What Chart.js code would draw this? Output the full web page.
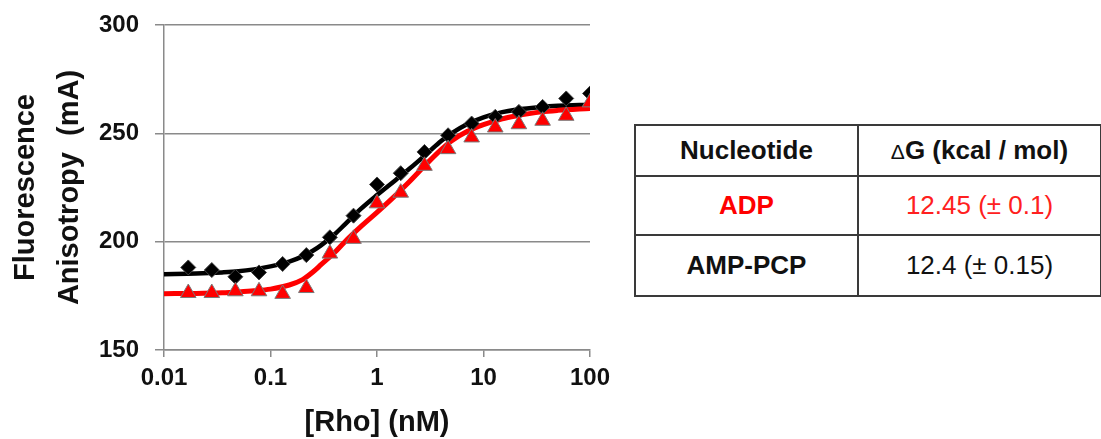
<!DOCTYPE html>
<html>
<head>
<meta charset="utf-8">
<script src="https://cdn.jsdelivr.net/npm/chart.js@4.4.1/dist/chart.umd.min.js"></script>
<style>
  html, body { margin: 0; padding: 0; background: #fff; }
  body { width: 1101px; height: 439px; position: relative; overflow: hidden;
         font-family: "Liberation Sans", Arial, sans-serif; }
  #plot { position: absolute; left: 0; top: 0; width: 620px; height: 439px; }
  table.dg { position: absolute; left: 634px; top: 124px; width: 466px;
             border-collapse: collapse; table-layout: fixed; }
  table.dg td { border: 2px solid #3a3a3a; text-align: center; padding: 0;
                font-size: 26px; color: #111; }
  table.dg td.h { font-weight: bold; }
  table.dg .red { color: #ff0000; }
  table.dg .redv { color: #ff2020; }
  .delta { font-size: 21px; font-weight: normal; }
</style>
</head>
<body>
<div id="plot"><canvas id="c" width="620" height="439"></canvas></div>

<table class="dg">
  <colgroup><col style="width:223px"><col style="width:243px"></colgroup>
  <tr style="height:51px"><td class="h">Nucleotide</td><td class="h"><span class="delta">&Delta;</span>G (kcal / mol)</td></tr>
  <tr style="height:59px"><td class="h red">ADP</td><td class="redv">12.45 (± 0.1)</td></tr>
  <tr style="height:61px"><td class="h">AMP-PCP</td><td>12.4 (± 0.15)</td></tr>
</table>

<script>
// Rho concentration series (nM) used for both titrations
const concNM = [0.0169, 0.0281, 0.0468, 0.078, 0.13, 0.217, 0.361, 0.602, 1.0, 1.67,
                2.79, 4.65, 7.74, 12.9, 21.5, 35.9, 59.8, 100];

// Measured anisotropy (mA)
const ampPcpAniso = [188.1, 186.9, 183.8, 185.8, 189.7, 193.8, 202.0, 212.0, 226.4, 231.6,
                     241.4, 249.1, 254.5, 257.6, 259.9, 262.2, 266.1, 268.4];
const adpAniso = [176.3, 176.3, 177.1, 177.1, 175.9, 178.6, 194.5, 201.3, 217.7, 222.6,
                  235.0, 242.7, 248.1, 252.7, 254.2, 255.8, 258.1, 264.3];

// Binding fits
const fitConc = [0.01, 0.02, 0.035, 0.05, 0.07, 0.1, 0.15, 0.2, 0.25, 0.3, 0.4, 0.5, 0.7,
                 1, 1.5, 2, 3, 4, 5, 7, 10, 15, 20, 35, 50, 100];
const ampPcpFit = [185, 185.3, 185.8, 186.3, 187.2, 188.6, 190.8, 193.2, 195.8, 198.4,
                   203.4, 208, 215, 221.5, 228.5, 233.5, 241, 246.5, 250, 254.2, 257.4,
                   259.8, 260.9, 262.2, 262.7, 263.2];
const adpFit = [176, 176.1, 176.4, 176.8, 177.3, 178.1, 180, 182.5, 186, 189.5, 195,
                200, 206.8, 213.5, 221.5, 227.5, 236.5, 242.5, 246.5, 250.8, 254,
                256.7, 258, 259.9, 260.6, 261.5];

// Axis ticks
const xTickValues = [0.01, 0.1, 1, 10, 100];
const xTickLabels = ['0.01', '0.1', '1', '10', '100'];
const yTickValues = [150, 200, 250, 300];

const pts = (xs, ys) => xs.map((x, i) => ({ x: x, y: ys[i] }));

const FONT = '"Liberation Sans", Arial, sans-serif';
const GRID = '#8a8a8a';

new Chart(document.getElementById('c'), {
  type: 'scatter',
  data: {
    datasets: [
      {
        label: 'ADP',
        data: pts(concNM, adpAniso),
        pointStyle: 'triangle',
        pointRadius: 9,
        backgroundColor: '#ff0000',
        borderColor: '#7a7a7a',
        borderWidth: 1,
        order: 0
      },
      {
        label: 'AMP-PCP',
        data: pts(concNM, ampPcpAniso),
        pointStyle: 'rectRot',
        pointRadius: 7.5,
        backgroundColor: '#000000',
        borderColor: '#444444',
        borderWidth: 1,
        order: 1
      },
      {
        label: 'ADP fit',
        data: pts(fitConc, adpFit),
        showLine: true,
        pointRadius: 0,
        borderColor: '#ff0000',
        borderWidth: 5,
        cubicInterpolationMode: 'monotone',
        order: 2
      },
      {
        label: 'AMP-PCP fit',
        data: pts(fitConc, ampPcpFit),
        showLine: true,
        pointRadius: 0,
        borderColor: '#000000',
        borderWidth: 4.5,
        cubicInterpolationMode: 'monotone',
        order: 3
      }
    ]
  },
  options: {
    responsive: false,
    devicePixelRatio: 1,
    animation: false,
    layout: { padding: { top: 25, right: 30, left: 0, bottom: 0 } },
    plugins: { legend: { display: false }, tooltip: { enabled: false } },
    elements: { point: { hoverRadius: 0 } },
    scales: {
      x: {
        type: 'logarithmic',
        min: 0.01,
        max: 100,
        afterBuildTicks: (scale) => { scale.ticks = xTickValues.map(v => ({ value: v })); },
        afterFit: (scale) => { scale.height = 89; },
        ticks: {
          callback: (v) => { const i = xTickValues.indexOf(v); return i >= 0 ? xTickLabels[i] : ''; },
          font: { family: FONT, size: 24, weight: 'bold' },
          color: '#111',
          padding: 7,
          maxRotation: 0,
          autoSkip: false
        },
        grid: { drawOnChartArea: false, drawTicks: true, tickLength: 7, color: GRID, lineWidth: 1.5 },
        border: { color: GRID, width: 1.5 },
        title: {
          display: true,
          text: '[Rho] (nM)',
          font: { family: FONT, size: 29, weight: 'bold', lineHeight: 1.2 },
          color: '#111',
          padding: { top: 0, bottom: -1 }
        }
      },
      y: {
        min: 150,
        max: 300,
        afterBuildTicks: (scale) => { scale.ticks = yTickValues.map(v => ({ value: v })); },
        afterFit: (scale) => { scale.width = 164; scale.paddingTop = 0; scale.paddingBottom = 0; },
        ticks: {
          font: { family: FONT, size: 24, weight: 'bold' },
          color: '#111',
          padding: 16
        },
        grid: { color: GRID, tickLength: 9, lineWidth: 1.5 },
        border: { color: GRID, width: 1.5 },
        title: {
          display: true,
          text: ['Fluorescence', 'Anisotropy  (mA)'],
          font: { family: FONT, size: 29, weight: 'bold', lineHeight: 44 / 29 },
          color: '#111',
          padding: { top: 4, bottom: 0 }
        }
      }
    }
  }
});
</script>
</body>
</html>
